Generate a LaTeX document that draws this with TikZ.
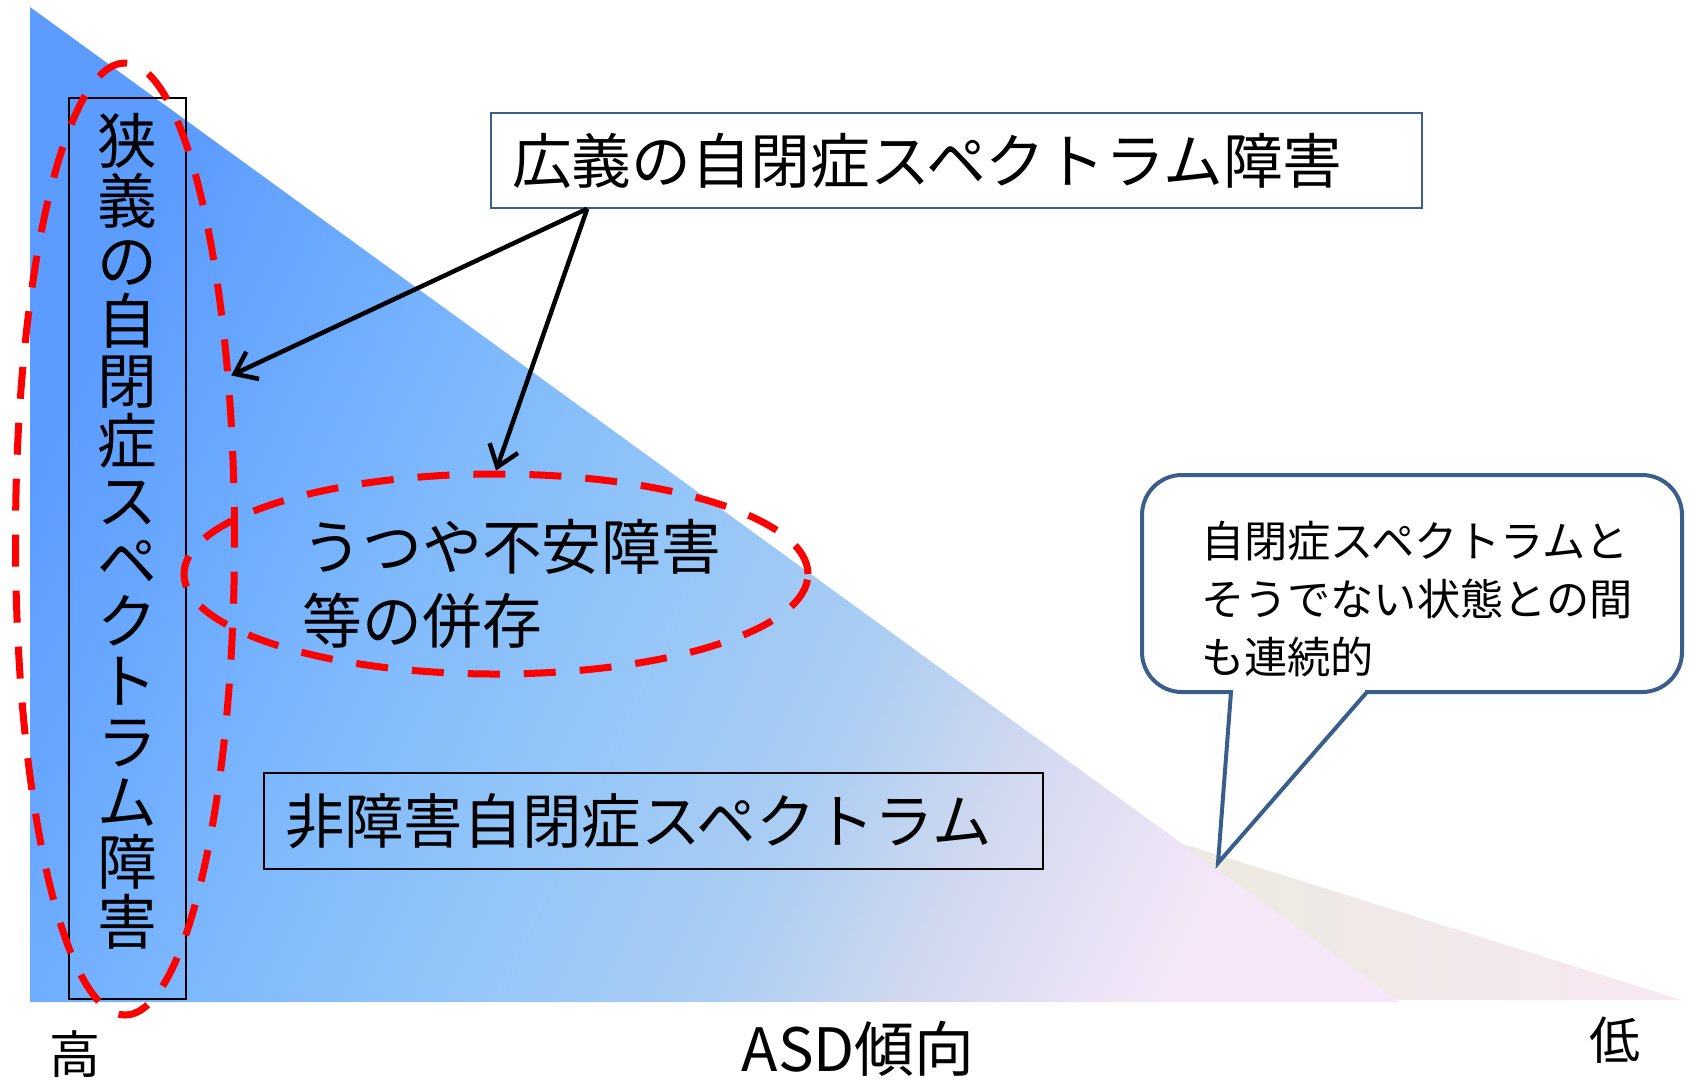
\documentclass[tikz,border=0pt]{standalone}
\usepackage{fontspec}
\setmainfont{Noto Sans CJK JP}
\usepackage{xcolor}
\usepackage{tikz}
\usetikzlibrary{shapes,arrows,positioning,calc,arrows.meta}

\definecolor{spectrumA}{RGB}{246,232,248}
\definecolor{spectrumB}{RGB}{236,227,246}
\definecolor{spectrumC}{RGB}{207,216,239}
\definecolor{spectrumD}{RGB}{170,205,243}
\definecolor{spectrumE}{RGB}{146,197,249}
\definecolor{spectrumF}{RGB}{128,186,252}
\definecolor{spectrumG}{RGB}{112,174,255}
\definecolor{spectrumH}{RGB}{92,156,255}
\definecolor{tailbeige}{RGB}{236,234,224}
\definecolor{tailpink}{RGB}{247,232,242}
\definecolor{boxnavy}{RGB}{58,94,140}
\definecolor{ringred}{RGB}{255,0,0}

\pgfdeclareverticalshading{spectrumshade}{100bp}{color(0bp)=(spectrumA); color(25bp)=(spectrumA); color(28bp)=(spectrumB); color(35bp)=(spectrumC); color(42bp)=(spectrumD); color(52bp)=(spectrumE); color(60bp)=(spectrumF); color(66bp)=(spectrumG); color(75bp)=(spectrumH); color(100bp)=(spectrumH)}

\begin{document}
\begin{tikzpicture}[x=0.1mm,y=-0.1mm,
    plainbox/.style={draw=black, line width=0.45pt, inner sep=0pt},
    redring/.style={ellipse, draw=ringred, line width=0.7mm, dash pattern=on 3.2mm off 2.4mm, inner sep=0pt},
    ptrarrow/.style={line width=0.45mm, -{Straight Barb[length=2mm,width=3mm]}},
    bigtext/.style={font=\fontsize{17}{20.8}\selectfont}]

    \useasboundingbox (0,0) rectangle (1689,1080);

    % Beige tail of the spectrum
    \shade[left color=tailbeige, middle color=tailbeige, right color=tailpink] (1180,843) -- (1682,1000) -- (1180,1000) -- cycle;

    % Blue spectrum triangle
    \shade[shading=spectrumshade, shading angle=65] (30,7) -- (1400,1002) -- (30,1002) -- cycle;

    % Narrow sense (vertical box)
    \node[plainbox, minimum width=11.7mm, minimum height=90.1mm] (narrowbox) at (127.5,548.5) {};
    \node[align=center, font=\fontsize{17}{17.1}\selectfont] (narrowtext) at (127.5,531) {狭\\義\\の\\自\\閉\\症\\ス\\ペ\\ク\\ト\\ラ\\ム\\障\\害};

    % Broad sense
    \node[plainbox, draw=boxnavy, fill=white, minimum width=93.1mm, minimum height=9.5mm, text width=88.9mm, inner xsep=2.1mm, align=left, font=\fontsize{17}{20}\selectfont] (broadbox) at (956.5,160.5) {広義の自閉症スペクトラム障害};

    % Non-disorder
    \node[plainbox, minimum width=77.9mm, minimum height=9.6mm, text width=73.7mm, inner xsep=2.1mm, align=left, font=\fontsize{16.9}{20}\selectfont] (nonbox) at (653.5,821) {非障害自閉症スペクトラム};

    % Comorbidity
    \node[align=left, bigtext] (comorbtext) at (512,584) {うつや不安障害\\等の併存};

    % Callout
    \draw[boxnavy, line width=0.4mm, fill=white, rounded corners=4mm] (1142,475) rectangle (1682,692);
    \coordinate (calltip) at (1218,863);
    \fill[white] (1231,692) -- (calltip) -- (1367,692) -- cycle;
    \fill[white] (1233,688) rectangle (1365,696);
    \draw[boxnavy, line width=0.4mm, line join=miter] (1231,692) -- (calltip) -- (1367,692);
    \node[align=left, font=\fontsize{12.3}{16.4}\selectfont] (calltext) at (1417,599) {自閉症スペクトラムと\\そうでない状態との間\\も連続的};

    % Red dashed rings
    \node[redring, minimum width=21.9mm, minimum height=95.2mm] (narrowring) at (125,539) {};
    \node[redring, minimum width=62.4mm, minimum height=20mm] (comorbring) at (496,574) {};

    % Arrows from the broad sense box
    \coordinate (fork) at ([xshift=9.7mm]broadbox.south west);
    \draw[ptrarrow] (fork) -- (narrowring.57);
    \draw[ptrarrow] (fork) -- (comorbring.north);

    % Axis labels
    \node[font=\fontsize{14.5}{16}\selectfont] (highlabel) at (75,1054) {高};
    \node[font=\fontsize{17}{20}\selectfont] (axislabel) at (858,1049) {ASD傾向};
    \node[font=\fontsize{14.5}{16}\selectfont] (lowlabel) at (1615,1040) {低};
\end{tikzpicture}
\end{document}
